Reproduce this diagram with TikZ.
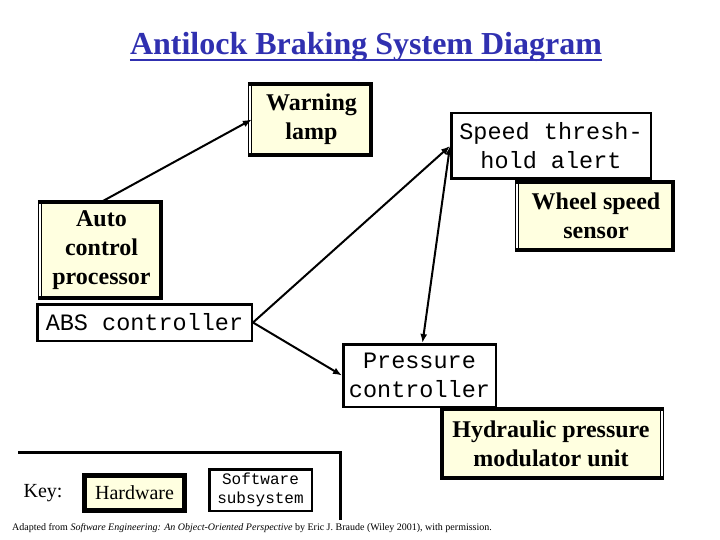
\documentclass[tikz,border=0pt]{standalone}
\usepackage{fontspec}
\setmainfont{Liberation Serif}
\setmonofont{Liberation Mono}
\usepackage{xcolor}
\usepackage{tikz}
\usetikzlibrary{arrows.meta, positioning, calc}

\definecolor{cream}{RGB}{255,255,224}
\definecolor{titleblue}{RGB}{48,48,176}

\begin{document}
\begin{tikzpicture}[
    x=1pt, y=-1pt,
    % Define styles for the nodes
    hw_node/.style={rectangle, align=center, inner sep=0pt, font=\fontsize{24}{29}\selectfont\bfseries},
    sw_node/.style={rectangle, draw=black, line width=2.5pt, fill=white, align=center, inner sep=0pt, font=\fontsize{23.5}{29}\selectfont\ttfamily},
    hw_frame/.style={line width=4.5pt},
    hw_rule/.style={line width=0.8pt},
    % Hardware frame: thick on three sides, thin double rule on the fourth
    rule_left/.style={append after command={\pgfextra{\let\hwnode\tikzlastnode
        \fill[cream] (\hwnode.south west) rectangle (\hwnode.north east);
        \draw[hw_frame] ([xshift=-4pt]\hwnode.north west) -| (\hwnode.south east) -- ([xshift=-4pt]\hwnode.south west);
        \draw[hw_rule] ([xshift=-0.5pt]\hwnode.north west) -- ([xshift=-0.5pt]\hwnode.south west);
        \draw[hw_rule] ([xshift=-3.5pt]\hwnode.north west) -- ([xshift=-3.5pt]\hwnode.south west);}}},
    rule_right/.style={append after command={\pgfextra{\let\hwnode\tikzlastnode
        \fill[cream] (\hwnode.south west) rectangle (\hwnode.north east);
        \draw[hw_frame] ([xshift=4pt]\hwnode.north east) -| (\hwnode.south west) -- ([xshift=4pt]\hwnode.south east);
        \draw[hw_rule] ([xshift=0.5pt]\hwnode.north east) -- ([xshift=0.5pt]\hwnode.south east);
        \draw[hw_rule] ([xshift=3.5pt]\hwnode.north east) -- ([xshift=3.5pt]\hwnode.south east);}}},
    key_hw/.style={rectangle, draw=black, line width=5pt, fill=cream, align=center, inner sep=0pt, font=\fontsize{20}{24}\selectfont},
    key_sw/.style={sw_node, font=\fontsize{16}{19}\selectfont\ttfamily},
    % Styles for arrows
    arrow/.style={-{Latex[length=9pt, width=7pt]}, line width=2pt},
    dbl_arrow/.style={{Latex[length=9pt, width=7pt]}-{Latex[length=9pt, width=7pt]}, line width=2pt}
]
    \useasboundingbox (0,0) rectangle (720,540);

    % =========================================================================
    % TITLE
    % =========================================================================
    \node[font=\fontsize{32}{38}\selectfont\bfseries, text=titleblue, inner sep=0pt] (title) at (366,47) {Antilock Braking System Diagram};
    \draw[titleblue, line width=2pt] ([yshift=-5pt]title.base west) -- ([yshift=-5pt]title.base east);

    % =========================================================================
    % HARDWARE UNITS
    % =========================================================================
    \node (warning_lamp) [hw_node, rule_left, minimum width=119pt, minimum height=71pt] at (311.5,119.5) {Warning\\lamp};
    \node (wheel_sensor) [hw_node, rule_left, minimum width=154pt, minimum height=68pt] at (596,216) {Wheel speed\\sensor};
    \node (auto_proc) [hw_node, rule_left, minimum width=119pt, minimum height=96pt] at (101.5,250) {Auto\\control\\processor};
    \node (hydraulic) [hw_node, rule_right, minimum width=218pt, minimum height=69pt] at (551,443.5) {Hydraulic pressure\\modulator unit};

    % =========================================================================
    % SOFTWARE SUBSYSTEMS
    % =========================================================================
    \node (speed_alert) [sw_node, minimum width=199.5pt, minimum height=65.5pt] at (551,146) {Speed thresh-\\hold alert};
    \node (abs_ctrl) [sw_node, minimum width=214.5pt, minimum height=36.5pt] at (144.5,322.5) {ABS controller};
    \node (pressure_ctrl) [sw_node, minimum width=152.5pt, minimum height=62.5pt] at (419.5,375.5) {Pressure\\controller};

    % Connectors
    \draw [arrow] (auto_proc.north) -- (warning_lamp.west);
    \draw [arrow] (abs_ctrl.east) -- (speed_alert.west);
    \draw [arrow] (abs_ctrl.east) -- (pressure_ctrl.west);
    \draw [dbl_arrow] (speed_alert.west) -- ([xshift=3pt]pressure_ctrl.north);

    % =========================================================================
    % KEY
    % =========================================================================
    \draw[line width=3pt] (18,452) -- (340,452) -- (340,520);
    \node (key_label) [font=\fontsize{20}{24}\selectfont, inner sep=0pt] at (43,493) {Key:};
    \node (key_hardware) [key_hw, minimum width=100pt, minimum height=35pt] at (134.5,493) {Hardware};
    \node (key_software) [key_sw, minimum width=102.5pt, minimum height=41.5pt] at (260.5,490) {Software\\subsystem};

    \node (credit) [font=\fontsize{10}{12}\selectfont, anchor=base west, inner sep=0pt] at (12,530)
        {Adapted from \textit{Software Engineering: An Object-Oriented Perspective} by Eric J. Braude (Wiley 2001), with permission.};

\end{tikzpicture}
\end{document}
